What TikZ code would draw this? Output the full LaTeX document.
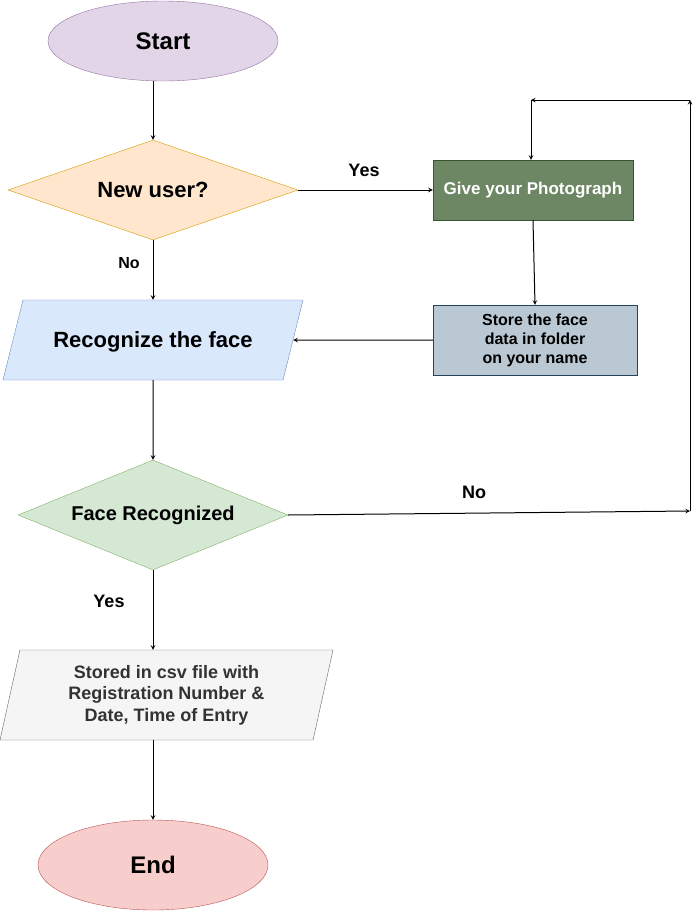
\documentclass[tikz,border=0pt]{standalone}
\usepackage{fontspec}
\setmainfont{Liberation Sans}
\usepackage{tikz}
\usetikzlibrary{shapes.geometric, arrows}
\definecolor{startfill}{HTML}{E1D5E7}
\definecolor{startdraw}{HTML}{9673A6}
\definecolor{askfill}{HTML}{FFE6CC}
\definecolor{askdraw}{HTML}{D79B00}
\definecolor{photofill}{HTML}{6D8764}
\definecolor{photodraw}{HTML}{3A5431}
\definecolor{storefill}{HTML}{BAC8D3}
\definecolor{storedraw}{HTML}{23445D}
\definecolor{recfill}{HTML}{DAE8FC}
\definecolor{recdraw}{HTML}{6C8EBF}
\definecolor{facefill}{HTML}{D5E8D4}
\definecolor{facedraw}{HTML}{82B366}
\definecolor{csvfill}{HTML}{F5F5F5}
\definecolor{csvdraw}{HTML}{666666}
\definecolor{csvtext}{HTML}{333333}
\definecolor{endfill}{HTML}{F8CECC}
\definecolor{enddraw}{HTML}{B85450}
\tikzstyle{terminal} = [ellipse, minimum width=230pt, inner sep=0pt, text centered, font=\fontsize{24}{28}\selectfont\bfseries]
\tikzstyle{decision} = [diamond, inner sep=0pt, text centered, font=\fontsize{20}{24}\selectfont\bfseries]
\tikzstyle{process} = [rectangle, inner sep=0pt, text centered, align=center, font=\fontsize{16}{19}\selectfont\bfseries]
\tikzstyle{io} = [trapezium, trapezium stretches body=true, inner sep=0pt, text centered, align=center]
\tikzstyle{lbl} = [font=\fontsize{18}{21}\selectfont\bfseries]
\tikzstyle{arrow} = [line width=1pt,->,>=stealth]
\begin{document}
\begin{tikzpicture}[x=1pt, y=-1pt]
  \useasboundingbox (0,0) rectangle (699,919);
  \node (start) [terminal, minimum height=80pt, fill=startfill, draw=startdraw] at (163,41) {Start};
  \node (newuser) [decision, aspect=2.9, minimum width=290pt, minimum height=100pt, fill=askfill, draw=askdraw, font=\fontsize{22}{26}\selectfont\bfseries] at (153,190) {New user?};
  \node (photo) [process, minimum width=200pt, minimum height=60pt, fill=photofill, draw=photodraw, text=white, font=\fontsize{17}{20}\selectfont\bfseries] at (533,190) {Give your Photograph};
  \node (store) [process, minimum width=204pt, minimum height=70pt, fill=storefill, draw=storedraw] at (535,340) {Store the face\\data in folder\\on your name};
  \node (recog) [io, trapezium left angle=76, trapezium right angle=104, text height=47.9pt, text depth=32.1pt, minimum width=300pt, fill=recfill, draw=recdraw, font=\fontsize{22}{26}\selectfont\bfseries] at (153,340) {Recognize the face};
  \node (face) [decision, aspect=2.4545, minimum width=270pt, minimum height=110pt, fill=facefill, draw=facedraw] at (153,515) {Face Recognized};
  \node (csv) [io, trapezium left angle=77.5, trapezium right angle=102.5, text height=71.1pt, text depth=18.9pt, minimum width=333pt, fill=csvfill, draw=csvdraw, text=csvtext, font=\fontsize{18}{21.5}\selectfont\bfseries] at (166.5,695) {Stored in csv file with\\Registration Number \&\\Date, Time of Entry};
  \node (finish) [terminal, minimum height=90pt, fill=endfill, draw=enddraw] at (153,865) {End};

  \coordinate (noright) at (690,511);
  \coordinate (notop) at (690,100);
  \coordinate (photoabove) at (531,100);

  \draw [arrow] (newuser.north |- start.south) -- (newuser.north);
  \draw [arrow] (newuser.east) -- (photo.west);
  \node (yes1) [lbl] at (364,170) {Yes};
  \draw [arrow] (newuser.south) -- (recog.north -| newuser.south);
  \node (no1) [lbl, font=\fontsize{16}{19}\selectfont\bfseries] at (129,263) {No};
  \draw [arrow] (photo.south) -- (store.north);
  \draw [arrow] (store.west) -- (recog.east);
  \draw [arrow] (recog.south) -- (face.north);
  \draw [arrow] (face.east) -- (noright);
  \node (no2) [lbl] at (474,492) {No};
  \draw [arrow] (noright) -- (notop);
  \draw [arrow] (notop) -- (photoabove);
  \draw [arrow] (photoabove) -- (photoabove |- photo.north);
  \draw [arrow] (face.south) -- (csv.north -| face.south);
  \node (yes2) [lbl] at (109,601) {Yes};
  \draw [arrow] (csv.south -| finish.north) -- (finish.north);
\end{tikzpicture}
\end{document}
